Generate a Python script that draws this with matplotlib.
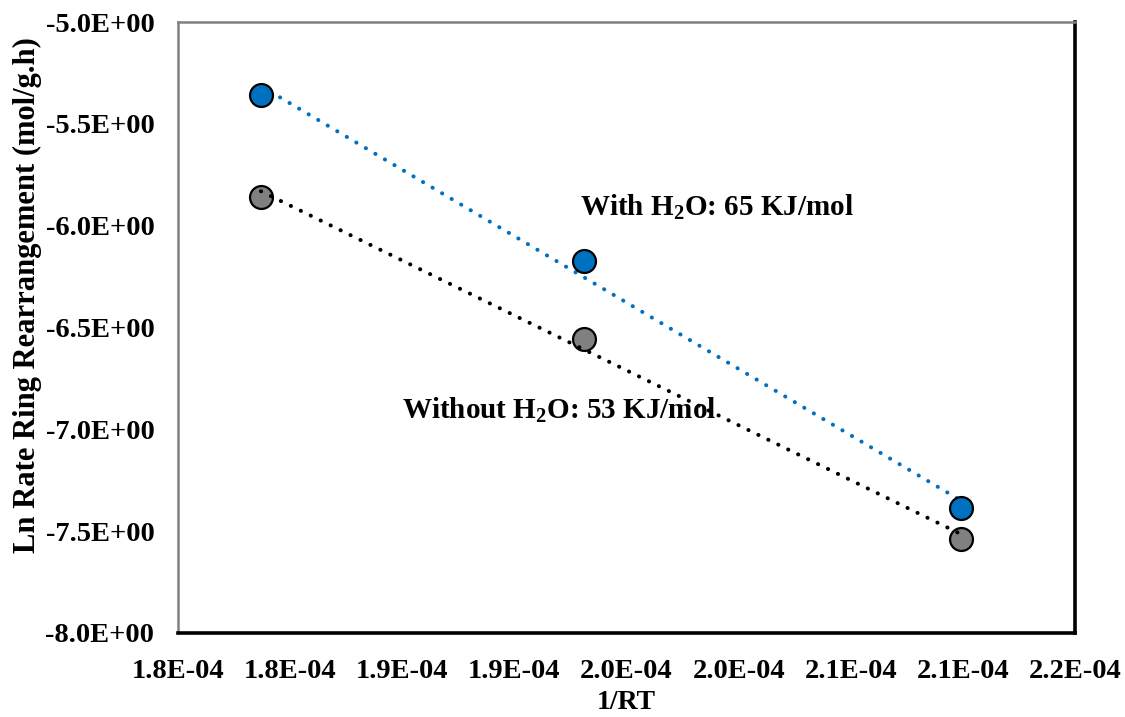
"""Arrhenius plot for the ring rearrangement rate, with and without water."""

import matplotlib.pyplot as plt
import numpy as np

plt.switch_backend("Agg")

plt.rcParams["font.family"] = ["Liberation Serif", "DejaVu Serif"]
plt.rcParams["font.weight"] = "bold"
plt.rcParams["mathtext.fontset"] = "custom"
plt.rcParams["mathtext.rm"] = "Liberation Serif:bold"
plt.rcParams["mathtext.it"] = "Liberation Serif:bold"
plt.rcParams["mathtext.bf"] = "Liberation Serif:bold"

# 1/RT for 673, 623 and 573 K
inv_rt = [1.787e-4, 1.931e-4, 2.099e-4]
ln_rate_with = [-5.358, -6.173, -7.386]
ln_rate_without = [-5.859, -6.556, -7.538]

x_ticks = [1.75e-4, 1.80e-4, 1.85e-4, 1.90e-4, 1.95e-4, 2.00e-4, 2.05e-4, 2.10e-4, 2.15e-4]
x_tick_labels = ["1.8E-04", "1.8E-04", "1.9E-04", "1.9E-04", "2.0E-04",
                 "2.0E-04", "2.1E-04", "2.1E-04", "2.2E-04"]
y_ticks = [-8.0, -7.5, -7.0, -6.5, -6.0, -5.5, -5.0]
y_tick_labels = ["-8.0E+00", "-7.5E+00", "-7.0E+00", "-6.5E+00",
                 "-6.0E+00", "-5.5E+00", "-5.0E+00"]

BLUE = "#0070C0"
GREY = "#808080"

fig = plt.figure(figsize=(11.25, 7.17), dpi=100)
ax = fig.add_axes([0.1582, 0.1172, 0.7974, 0.8521])

x = np.array(inv_rt)
xs = np.array([x.min(), x.max()])

# linear trendlines over the data range, round dots
for y, col in [(ln_rate_without, "black"), (ln_rate_with, BLUE)]:
    k, b = np.polyfit(x, y, 1)
    ax.plot(xs, k * xs + b, color=col, linestyle=(0, (0.05, 2.7)),
            linewidth=2.9, dash_capstyle="round", zorder=3)

ax.plot(x, ln_rate_without, "o", color=GREY, markeredgecolor="black",
        markeredgewidth=1.6, markersize=16.5, zorder=2)
ax.plot(x, ln_rate_with, "o", color=BLUE, markeredgecolor="black",
        markeredgewidth=1.6, markersize=16.5, zorder=4)

ax.text(1.9293e-4, -5.908, r"With H$_2$O: 65 KJ/mol", fontsize=21,
        fontweight="bold", ha="left", va="center", zorder=5)
ax.text(1.8499e-4, -6.905, r"Without H$_2$O: 53 KJ/mol", fontsize=21,
        fontweight="bold", ha="left", va="center", zorder=5)

ax.set_xlim(1.75e-4, 2.15e-4)
ax.set_ylim(-8.0, -5.0)
ax.set_xticks(x_ticks, x_tick_labels)
ax.set_yticks(y_ticks, y_tick_labels)
ax.tick_params(length=0, labelsize=20.5)
ax.tick_params(axis="x", pad=19)
ax.tick_params(axis="y", pad=17)
for lab in ax.get_xticklabels() + ax.get_yticklabels():
    lab.set_fontweight("bold")

ax.set_xlabel("1/RT", fontsize=20, fontweight="bold", va="baseline")
ax.xaxis.set_label_coords(0.5, -0.124)
ax.set_ylabel("Ln Rate Ring Rearrangement (mol/g.h)", fontsize=22,
              fontweight="bold", va="center")
ax.yaxis.set_label_coords(-0.168, 0.553)

ax.spines["left"].set_color(GREY)
ax.spines["top"].set_color(GREY)
ax.spines["left"].set_linewidth(1.8)
ax.spines["top"].set_linewidth(1.8)
ax.spines["right"].set_color("black")
ax.spines["bottom"].set_color("black")
ax.spines["right"].set_linewidth(2.6)
ax.spines["bottom"].set_linewidth(2.6)

fig.savefig("out.png", dpi=100)
